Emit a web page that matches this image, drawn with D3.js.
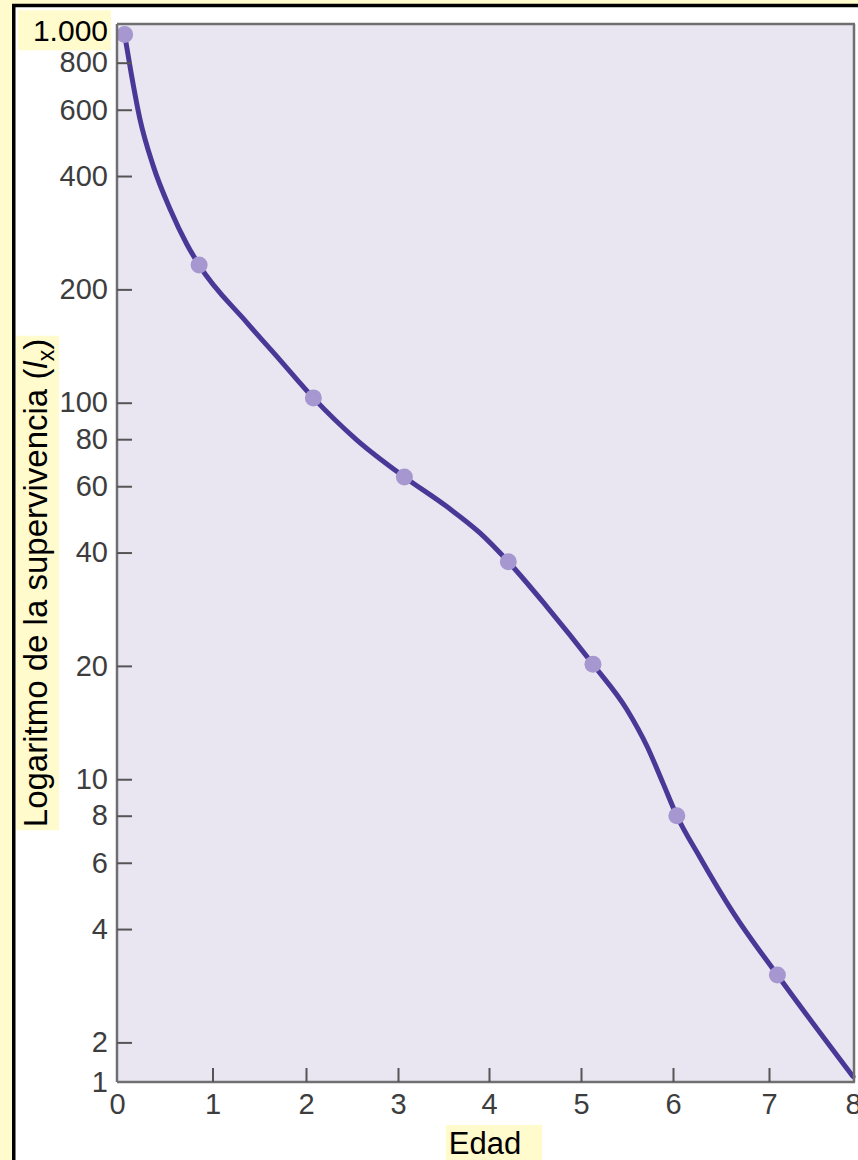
<!DOCTYPE html>
<html>
<head>
<meta charset="utf-8">
<script src="https://cdn.jsdelivr.net/npm/d3@7"></script>
<style>
  body { margin: 0; background: #fffbcc; }
  svg { display: block; }
  text { font-family: "Liberation Sans", Arial, Helvetica, sans-serif; }
</style>
</head>
<body>
<svg id="chart" width="858" height="1160"></svg>
<script>
// Survivorship curve: age (x) against survivors l_x on a log axis (y)
const ageTicks = [0, 1, 2, 3, 4, 5, 6, 7, 8];
const survTicks = [1, 2, 4, 6, 8, 10, 20, 40, 60, 80, 100, 200, 400, 600, 800, 1000];

// census points (dots)
const sampleAge  = [0.08, 0.86, 2.08, 3.07, 4.21, 5.13, 6.04, 7.10];
const sampleSurv = [950, 232, 103, 63.5, 37.8, 20.2, 8.0, 3.02];

// smoothed survivorship curve
const curveAge  = [0.08, 0.15, 0.24, 0.38, 0.56, 0.73, 0.86, 1.37, 1.72, 2.08, 2.55, 3.07,
                   3.54, 3.90, 4.21, 4.63, 5.13, 5.50, 5.72, 5.89, 6.04, 6.28, 6.63, 7.10, 8.00];
const curveSurv = [950, 746, 567, 425, 325, 264, 232, 163, 130, 103, 79.7, 63.5,
                   52.9, 45.1, 37.8, 28.7, 20.2, 15.3, 12.2, 9.78, 8.0, 6.21, 4.41, 3.02, 1.1];

const yTitle = "Logaritmo de la supervivencia (";
const yTitleVar = "l";
const yTitleSub = "x";
const xTitle = "Edad";

const svg = d3.select("#chart");
const W = 858, H = 1160;
const plot = { left: 117, right: 853, top: 24, bottom: 1082 };

// page frame
svg.append("rect").attr("width", W).attr("height", H).attr("fill", "#fffbcc");
svg.append("rect")
  .attr("x", 13.75).attr("y", 5.5).attr("width", W + 40).attr("height", H + 40)
  .attr("fill", "#ffffff").attr("stroke", "#000").attr("stroke-width", 3.5);

// scales: hand-drawn axis with slightly uneven spacing, log y with compressed bottom decade
const x = d3.scaleLinear()
  .domain(ageTicks)
  .range([117, 212.5, 306, 398, 489, 581, 673, 769, 853]);
const y = d3.scaleLog()
  .domain([1, 2, 1000])
  .range([plot.bottom, 1042.4, 26.2]);

// plot background
svg.append("rect")
  .attr("x", plot.left).attr("y", plot.top)
  .attr("width", plot.right - plot.left).attr("height", plot.bottom - plot.top)
  .attr("fill", "#e9e6f2");

// curve
const curvePts = curveAge.map((a, i) => [a, curveSurv[i]]);
svg.append("path")
  .datum(curvePts)
  .attr("fill", "none")
  .attr("stroke", "#4a3897")
  .attr("stroke-width", 5)
  .attr("stroke-linecap", "round")
  .attr("d", d3.line().x(d => x(d[0])).y(d => y(d[1])).curve(d3.curveMonotoneX));

// dots
svg.append("g").selectAll("circle")
  .data(sampleAge.map((a, i) => [a, sampleSurv[i]]))
  .join("circle")
  .attr("cx", d => x(d[0])).attr("cy", d => y(d[1]))
  .attr("r", 8.5)
  .attr("fill", "#a697d0");

// plot frame
const frame = svg.append("g").attr("stroke", "#6f6f6f").attr("stroke-width", 2.5).attr("fill", "none");
frame.append("line").attr("x1", plot.left).attr("x2", plot.right + 2).attr("y1", plot.top).attr("y2", plot.top);
frame.append("line").attr("x1", plot.right + 1).attr("x2", plot.right + 1).attr("y1", plot.top).attr("y2", plot.bottom);
frame.append("line").attr("x1", plot.left).attr("x2", plot.left).attr("y1", plot.top).attr("y2", plot.bottom);
frame.append("line").attr("x1", plot.left).attr("x2", plot.right + 2).attr("y1", plot.bottom).attr("y2", plot.bottom);

// Spanish number format (1.000)
const es = d3.formatLocale({ decimal: ",", thousands: ".", grouping: [3], currency: ["", " €"] });
const fmt = es.format(",d");

// y axis
const yAxis = svg.append("g")
  .attr("transform", `translate(${plot.left},0)`)
  .call(d3.axisLeft(y).tickValues(survTicks).tickFormat(fmt)
        .tickSizeInner(-15).tickSizeOuter(0).tickPadding(9));
yAxis.select(".domain").remove();
yAxis.selectAll(".tick line").attr("stroke", "#555").attr("stroke-width", 2)
  .filter(d => d === 1 || d === 1000).remove();
yAxis.selectAll(".tick text")
  .attr("font-family", "'Liberation Sans', Arial, sans-serif")
  .attr("font-size", 29).attr("fill", "#3d3d3d");
yAxis.selectAll(".tick").filter(d => d === 1000).each(function () {
  const t = d3.select(this).select("text");
  t.attr("fill", "#000").attr("font-size", 30).attr("y", 5);
  const b = t.node().getBBox();
  d3.select(this).insert("rect", "text")
    .attr("x", b.x - 15).attr("y", b.y - 4)
    .attr("width", b.width + 18).attr("height", b.height + 7)
    .attr("fill", "#fffbcc");
});

// x axis
const xAxis = svg.append("g")
  .attr("transform", `translate(0,${plot.bottom})`)
  .call(d3.axisBottom(x).tickValues(ageTicks).tickSizeInner(-14).tickSizeOuter(0).tickPadding(11));
xAxis.select(".domain").remove();
xAxis.selectAll(".tick line").attr("stroke", "#555").attr("stroke-width", 2)
  .filter(d => d === 0 || d === 8).remove();
xAxis.selectAll(".tick text")
  .attr("font-family", "'Liberation Sans', Arial, sans-serif")
  .attr("font-size", 29).attr("fill", "#3d3d3d");

// y title with highlight
const yt = svg.append("g").attr("transform", "translate(47,583) rotate(-90)");
const ytBg = yt.append("rect").attr("fill", "#fffbcc");
const ytText = yt.append("text")
  .attr("text-anchor", "middle")
  .attr("font-size", 33)
  .attr("fill", "#000");
ytText.append("tspan").text(yTitle);
ytText.append("tspan").attr("font-style", "italic").text(yTitleVar);
ytText.append("tspan").attr("font-size", 23).attr("dy", 7).text(yTitleSub);
ytText.append("tspan").attr("dy", -7).text(")");
{
  const b = ytText.node().getBBox();
  ytBg.attr("x", b.x - 3).attr("y", b.y - 1).attr("width", b.width + 6).attr("height", b.height + 1);
}

// x title with highlight
const xtBg = svg.append("rect").attr("fill", "#fffbcc");
const xt = svg.append("text")
  .attr("x", 485).attr("y", 1154)
  .attr("text-anchor", "middle")
  .attr("font-size", 31)
  .attr("fill", "#000")
  .text(xTitle);
{
  const b = xt.node().getBBox();
  xtBg.attr("x", b.x - 3).attr("y", b.y - 1).attr("width", b.width + 24).attr("height", H - b.y + 2);
}
</script>
</body>
</html>
